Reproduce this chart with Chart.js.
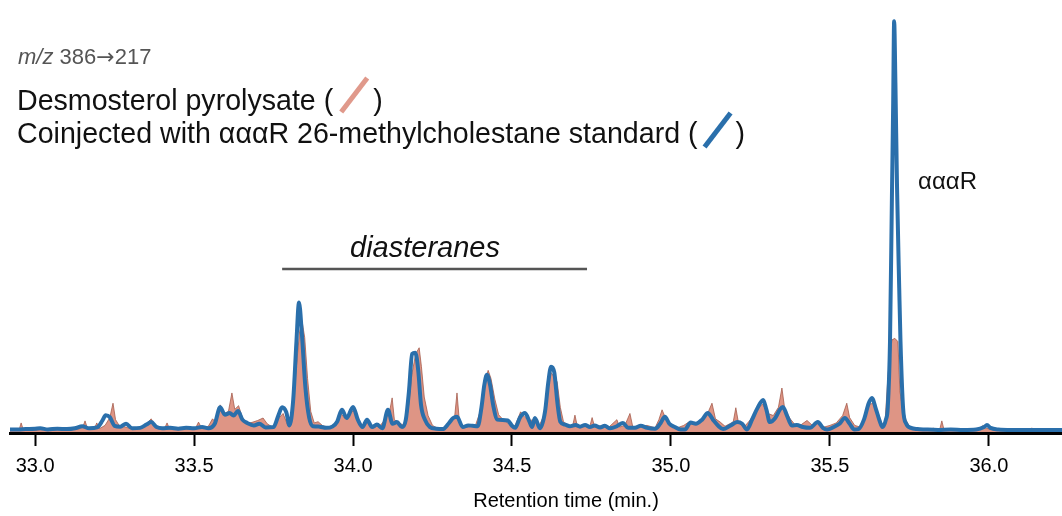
<!DOCTYPE html>
<html>
<head>
<meta charset="utf-8">
<script src="https://cdn.jsdelivr.net/npm/chart.js@4/dist/chart.umd.min.js"></script>
<style>
  html, body { margin: 0; padding: 0; background: #fff; }
  #wrap { width: 1062px; height: 516px; }
</style>
</head>
<body>
<div id="wrap"><canvas id="chrom"></canvas></div>
<script>
// Desmosterol pyrolysate trace (filled, salmon)
const desmoTime = [32.921, 32.940, 32.950, 32.956, 32.963, 32.990, 33.020, 33.050, 33.080, 33.110, 33.140, 33.150, 33.157, 33.165, 33.185, 33.194, 33.202, 33.220, 33.235, 33.245, 33.253, 33.265, 33.285, 33.300, 33.330, 33.350, 33.365, 33.378, 33.395, 33.408, 33.415, 33.423, 33.450, 33.480, 33.505, 33.514, 33.524, 33.545, 33.558, 33.570, 33.582, 33.595, 33.608, 33.619, 33.628, 33.640, 33.652, 33.665, 33.685, 33.700, 33.717, 33.730, 33.750, 33.768, 33.780, 33.795, 33.810, 33.822, 33.832, 33.840, 33.848, 33.857, 33.867, 33.878, 33.890, 33.905, 33.925, 33.945, 33.962, 33.975, 33.990, 34.002, 34.015, 34.030, 34.048, 34.065, 34.085, 34.105, 34.115, 34.123, 34.130, 34.145, 34.160, 34.173, 34.185, 34.197, 34.208, 34.215, 34.224, 34.236, 34.250, 34.268, 34.290, 34.308, 34.320, 34.327, 34.334, 34.348, 34.365, 34.385, 34.400, 34.412, 34.425, 34.434, 34.446, 34.458, 34.472, 34.490, 34.508, 34.520, 34.527, 34.540, 34.555, 34.570, 34.585, 34.600, 34.612, 34.622, 34.632, 34.642, 34.652, 34.662, 34.678, 34.690, 34.698, 34.706, 34.725, 34.745, 34.752, 34.760, 34.785, 34.805, 34.830, 34.838, 34.855, 34.871, 34.880, 34.900, 34.925, 34.950, 34.962, 34.972, 34.985, 35.000, 35.020, 35.040, 35.060, 35.080, 35.100, 35.118, 35.129, 35.140, 35.155, 35.170, 35.190, 35.196, 35.204, 35.212, 35.230, 35.250, 35.270, 35.288, 35.305, 35.322, 35.338, 35.349, 35.358, 35.375, 35.392, 35.410, 35.428, 35.445, 35.465, 35.482, 35.500, 35.520, 35.540, 35.553, 35.562, 35.578, 35.595, 35.610, 35.625, 35.640, 35.652, 35.665, 35.673, 35.683, 35.695, 35.704, 35.714, 35.720, 35.728, 35.739, 35.752, 35.770, 35.800, 35.826, 35.835, 35.845, 35.852, 35.859, 35.900, 35.950, 35.975, 35.981, 35.992, 36.020, 36.070, 36.128, 36.135, 36.142, 36.180, 36.230];
const desmoSignal = [0.4, 0.5, 0.6, 2.2, 0.5, 0.4, 0.6, 0.5, 0.7, 0.5, 0.8, 1.2, 2.7, 0.8, 0.6, 2.2, 0.8, 1.6, 3.5, 7.0, 3.0, 1.5, 1.2, 0.8, 0.9, 2.0, 3.2, 1.5, 0.7, 1.0, 2.2, 0.7, 0.6, 0.8, 1.0, 2.4, 0.9, 1.4, 3.2, 2.2, 6.6, 4.5, 5.0, 9.5, 5.5, 6.4, 3.5, 2.0, 2.4, 2.8, 3.4, 2.0, 1.0, 3.5, 4.5, 1.5, 5.0, 16.0, 24.5, 26.8, 23.0, 13.0, 5.0, 2.2, 2.5, 1.5, 1.2, 2.0, 4.5, 3.2, 4.5, 5.2, 3.0, 1.5, 2.2, 1.2, 1.5, 3.5, 5.0, 8.3, 3.0, 2.2, 1.6, 5.0, 14.0, 19.0, 20.5, 16.0, 8.5, 4.0, 1.6, 0.8, 1.2, 2.5, 4.0, 9.5, 3.0, 1.0, 1.4, 1.6, 5.0, 11.5, 15.0, 13.0, 8.0, 4.2, 3.0, 2.0, 1.3, 3.5, 4.9, 3.6, 2.8, 3.0, 1.4, 4.0, 10.5, 14.5, 13.5, 12.2, 6.0, 2.5, 1.6, 1.2, 4.1, 1.2, 1.5, 1.4, 3.5, 1.2, 1.6, 1.2, 3.0, 1.2, 1.6, 4.5, 1.2, 1.4, 1.6, 1.0, 3.0, 5.4, 3.0, 1.6, 1.0, 1.6, 2.6, 1.8, 3.2, 5.0, 7.0, 3.2, 2.4, 1.4, 2.2, 2.5, 5.9, 2.4, 1.2, 3.0, 5.5, 6.8, 4.5, 4.0, 6.0, 10.7, 5.5, 3.2, 1.6, 1.8, 2.8, 1.6, 2.2, 1.2, 1.6, 2.2, 4.0, 7.0, 3.5, 1.6, 1.2, 3.8, 6.8, 7.0, 4.5, 1.6, 2.0, 14.0, 22.4, 22.8, 22.0, 10.0, 6.0, 3.0, 1.0, 0.5, 0.6, 0.9, 0.5, 0.5, 2.7, 0.5, 0.4, 0.5, 0.8, 1.6, 0.9, 0.4, 0.5, 0.4, 1.0, 0.4, 0.4, 0.4];

// Coinjected with aaaR 26-methylcholestane standard (blue line)
const coinjTime = [32.921, 32.945, 32.970, 33.000, 33.016, 33.040, 33.070, 33.100, 33.125, 33.148, 33.170, 33.195, 33.212, 33.222, 33.235, 33.250, 33.268, 33.286, 33.305, 33.330, 33.350, 33.365, 33.382, 33.400, 33.425, 33.450, 33.475, 33.500, 33.525, 33.545, 33.565, 33.582, 33.597, 33.612, 33.624, 33.638, 33.652, 33.667, 33.688, 33.705, 33.725, 33.750, 33.765, 33.777, 33.790, 33.800, 33.812, 33.822, 33.830, 33.839, 33.850, 33.862, 33.874, 33.895, 33.915, 33.935, 33.950, 33.965, 33.980, 34.000, 34.015, 34.030, 34.044, 34.060, 34.075, 34.092, 34.110, 34.124, 34.138, 34.154, 34.166, 34.176, 34.186, 34.196, 34.205, 34.214, 34.226, 34.242, 34.262, 34.282, 34.300, 34.315, 34.327, 34.345, 34.362, 34.376, 34.392, 34.404, 34.413, 34.421, 34.431, 34.441, 34.454, 34.470, 34.487, 34.500, 34.510, 34.525, 34.541, 34.555, 34.563, 34.572, 34.588, 34.604, 34.614, 34.623, 34.633, 34.643, 34.652, 34.667, 34.682, 34.700, 34.714, 34.730, 34.745, 34.760, 34.777, 34.792, 34.808, 34.830, 34.849, 34.865, 34.887, 34.905, 34.925, 34.950, 34.966, 34.981, 34.995, 35.012, 35.030, 35.044, 35.062, 35.078, 35.098, 35.116, 35.132, 35.150, 35.164, 35.186, 35.208, 35.224, 35.239, 35.255, 35.272, 35.290, 35.300, 35.311, 35.328, 35.343, 35.352, 35.365, 35.380, 35.396, 35.415, 35.437, 35.462, 35.478, 35.491, 35.512, 35.530, 35.547, 35.562, 35.577, 35.590, 35.607, 35.622, 35.632, 35.645, 35.656, 35.665, 35.676, 35.682, 35.689, 35.695, 35.699, 35.702, 35.706, 35.711, 35.718, 35.722, 35.730, 35.740, 35.755, 35.775, 35.800, 35.840, 35.880, 35.920, 35.960, 35.985, 35.994, 36.005, 36.030, 36.070, 36.130, 36.230];
const coinjSignal = [0.6, 0.6, 0.7, 0.8, 0.9, 0.6, 0.8, 0.7, 0.9, 1.4, 0.9, 1.1, 2.8, 4.1, 3.6, 1.5, 1.3, 2.0, 0.9, 1.0, 1.8, 2.4, 1.2, 0.9, 1.0, 0.8, 1.0, 0.9, 1.2, 0.9, 2.0, 6.0, 4.2, 4.6, 4.0, 5.1, 3.0, 2.2, 1.6, 2.0, 1.1, 1.2, 4.0, 6.0, 4.8, 1.6, 8.0, 22.0, 31.5, 24.0, 11.0, 3.5, 1.4, 1.3, 1.0, 1.3, 2.5, 5.4, 3.4, 6.1, 3.0, 1.2, 3.0, 1.2, 1.8, 0.9, 5.4, 2.0, 2.4, 1.2, 3.0, 10.0, 19.0, 19.3, 15.0, 6.5, 3.0, 1.2, 0.8, 0.7, 2.0, 3.4, 3.7, 1.2, 1.6, 1.5, 1.4, 6.0, 11.5, 13.9, 11.5, 6.5, 3.0, 2.9, 2.8, 1.5, 1.0, 3.5, 4.6, 2.5, 1.2, 3.4, 0.9, 5.0, 12.0, 15.9, 14.5, 7.0, 2.5, 1.8, 1.4, 1.7, 1.3, 1.7, 1.2, 1.6, 1.1, 1.5, 0.9, 1.4, 2.2, 1.0, 1.0, 1.5, 1.0, 0.8, 2.0, 3.7, 2.0, 1.2, 0.6, 0.6, 2.3, 2.0, 3.0, 4.6, 3.0, 1.4, 0.7, 1.5, 2.4, 2.0, 0.6, 3.0, 5.8, 7.8, 5.5, 2.4, 3.4, 5.5, 6.1, 4.0, 1.6, 1.7, 1.2, 1.0, 2.4, 1.0, 0.6, 1.2, 2.0, 3.4, 2.0, 0.6, 0.7, 3.0, 7.0, 8.3, 5.5, 2.8, 1.2, 3.0, 6.0, 22.0, 57.0, 80.0, 100.0, 85.0, 60.0, 35.0, 22.0, 6.0, 2.0, 1.0, 0.7, 0.6, 0.5, 0.6, 0.5, 0.6, 1.2, 1.7, 1.0, 0.6, 0.5, 0.5, 0.5];

const xTicks = [33.0, 33.5, 34.0, 34.5, 35.0, 35.5, 36.0];

const salmon = "#de9585";
const blue = "#2a6fab";
const textFont = "'Liberation Sans', Arial, sans-serif";

const toPoints = (xs, ys) => xs.map((x, i) => ({ x, y: ys[i] }));

// labels, legend swatches, axis title and the diasteranes bar
const annotations = {
  id: "annotations",
  afterDraw(chart) {
    const ctx = chart.ctx;
    const xs = chart.scales.x;
    ctx.save();
    ctx.textBaseline = "alphabetic";

    // m/z line
    ctx.fillStyle = "#555";
    ctx.font = "italic 22px " + textFont;
    ctx.fillText("m/z", 18, 64);
    let x0 = 18 + ctx.measureText("m/z ").width;
    ctx.font = "22px " + textFont;
    ctx.fillText("386", x0, 64);
    x0 += ctx.measureText("386").width;
    ctx.font = "22px 'DejaVu Sans', sans-serif";
    ctx.fillText("\u2192", x0, 64);
    x0 += ctx.measureText("\u2192").width;
    ctx.font = "22px " + textFont;
    ctx.fillText("217", x0, 64);

    // legend lines
    ctx.fillStyle = "#111";
    ctx.font = "28.6px " + textFont;
    const l1 = "Desmosterol pyrolysate (";
    ctx.fillText(l1, 17, 110);
    const x1 = 17 + ctx.measureText(l1).width;
    ctx.strokeStyle = "#e0998b";
    ctx.lineWidth = 5;
    ctx.beginPath();
    ctx.moveTo(x1 + 8, 112);
    ctx.lineTo(x1 + 34, 78);
    ctx.stroke();
    ctx.fillText(")", x1 + 40, 110);

    const l2 = "Coinjected with \u03b1\u03b1\u03b1R 26-methylcholestane standard (";
    ctx.fillText(l2, 17, 143);
    const x2 = 17 + ctx.measureText(l2).width;
    ctx.strokeStyle = blue;
    ctx.beginPath();
    ctx.moveTo(x2 + 7, 147);
    ctx.lineTo(x2 + 33, 113);
    ctx.stroke();
    ctx.fillText(")", x2 + 38, 143);

    // peak label
    ctx.font = "24px " + textFont;
    ctx.fillText("\u03b1\u03b1\u03b1R", 918, 189);

    // diasteranes bracket
    ctx.font = "italic 29px " + textFont;
    ctx.textAlign = "center";
    ctx.fillText("diasteranes", 425, 257);
    ctx.strokeStyle = "#555";
    ctx.lineWidth = 2.5;
    ctx.beginPath();
    ctx.moveTo(xs.getPixelForValue(33.777), 269);
    ctx.lineTo(xs.getPixelForValue(34.736), 269);
    ctx.stroke();

    // axis title
    ctx.fillStyle = "#000";
    ctx.font = "20px " + textFont;
    ctx.fillText("Retention time (min.)", 566, 507);
    ctx.restore();
  }
};

new Chart(document.getElementById("chrom"), {
  type: "line",
  data: {
    datasets: [
      {
        label: "Coinjected",
        data: toPoints(coinjTime, coinjSignal),
        borderColor: blue,
        borderWidth: 4,
        pointRadius: 0,
        fill: false,
        cubicInterpolationMode: "monotone",
        order: 0,
      },
      {
        label: "Desmosterol pyrolysate",
        data: toPoints(desmoTime, desmoSignal),
        borderColor: "rgba(160, 85, 70, 0.75)",
        borderWidth: 1,
        backgroundColor: salmon,
        pointRadius: 0,
        tension: 0,
        fill: "origin",
        order: 1,
      },
    ],
  },
  options: {
    responsive: true,
    maintainAspectRatio: false,
    animation: false,
    events: [],
    layout: { padding: { top: 15, left: 10, right: 0, bottom: 0 } },
    plugins: { legend: { display: false }, tooltip: { enabled: false } },
    scales: {
      x: {
        type: "linear",
        min: 32.921,
        max: 36.23,
        afterBuildTicks: (scale) => {
          scale.ticks = xTicks.map((v) => ({ value: v }));
        },
        afterFit: (scale) => {
          scale.height = 83;
        },
        border: { display: true, color: "#000", width: 3 },
        grid: {
          drawOnChartArea: false,
          drawTicks: true,
          tickLength: 13,
          tickWidth: 2,
          tickColor: "#000",
        },
        ticks: {
          color: "#000",
          padding: 8,
          maxRotation: 0,
          font: { family: textFont, size: 20 },
          callback: (v) => Number(v).toFixed(1),
        },
        title: { display: false },
      },
      y: {
        display: false,
        min: -0.25,
        max: 101.5,
      },
    },
  },
  plugins: [annotations],
});
</script>
</body>
</html>
